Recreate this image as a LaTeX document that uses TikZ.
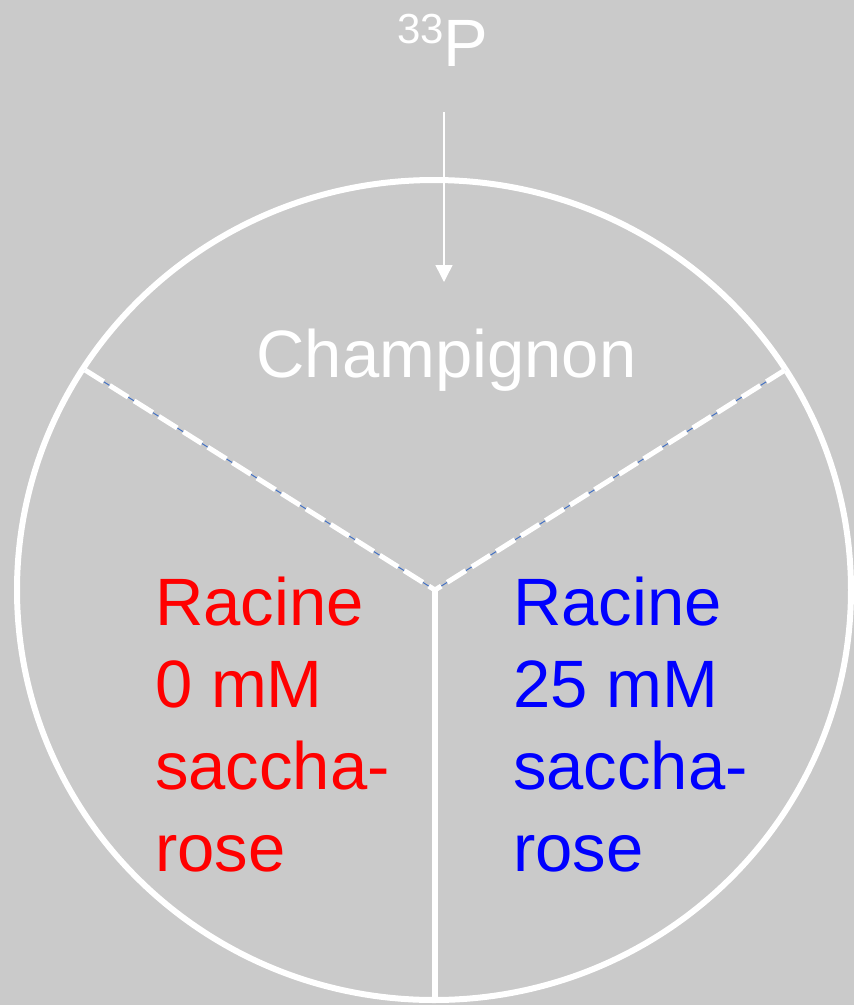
\documentclass[tikz,border=0pt]{standalone}
\usepackage{fontspec}
\setmainfont{Liberation Sans}
\usetikzlibrary{arrows.meta}
\definecolor{bggray}{RGB}{202,202,202}
\definecolor{dashblue}{RGB}{68,114,196}
\tikzset{
  rim/.style={draw=white, line width=6pt},
  divider/.style={draw=white, line width=6pt},
  dashunder/.style={draw=dashblue, line width=1pt},
  dashover/.style={draw=white, line width=5pt, dash pattern=on 22pt off 7pt},
  bigtext/.style={inner sep=0pt, font=\fontsize{67}{82}\selectfont, align=left},
  feed/.style={draw=white, line width=1.5pt, -{Triangle[width=17pt,length=17pt]}}
}
\begin{document}
\begin{tikzpicture}[x=1pt,y=-1pt]
\fill[bggray] (0,0) rectangle (854,1005);
\useasboundingbox (0,0) rectangle (854,1005);
\draw[rim] (434,590) ellipse [x radius=417, y radius=410];
\coordinate (ctr) at (435,590);
\coordinate (lft) at (85,370);
\coordinate (rgt) at (785,370);
\coordinate (bot) at (435,1000);
\draw[dashunder] (lft) -- (ctr) -- (rgt);
\draw[dashover] (lft) -- (ctr);
\draw[dashover] (rgt) -- (ctr);
\draw[divider] (ctr) -- (bot);
\node[inner sep=0pt, anchor=base west, text=white, font=\fontsize{67}{67}\selectfont] (p33) at (397,66)
  {{\fontsize{42}{42}\selectfont\raisebox{23pt}{33}}P};
\coordinate (atop) at (444,112);
\coordinate (atip) at (444,282);
\draw[feed] (atop) -- (atip);
\node[inner sep=0pt, anchor=base, text=white, font=\fontsize{67}{67}\selectfont] (champ) at (446.5,377) {Champignon};
\node[bigtext, anchor=north west, text=red] (rootA) at (155,577) {Racine\\0 mM\\saccha-\\rose};
\node[bigtext, anchor=north west, text=blue] (rootB) at (513,577) {Racine\\25 mM\\saccha-\\rose};
\end{tikzpicture}
\end{document}
